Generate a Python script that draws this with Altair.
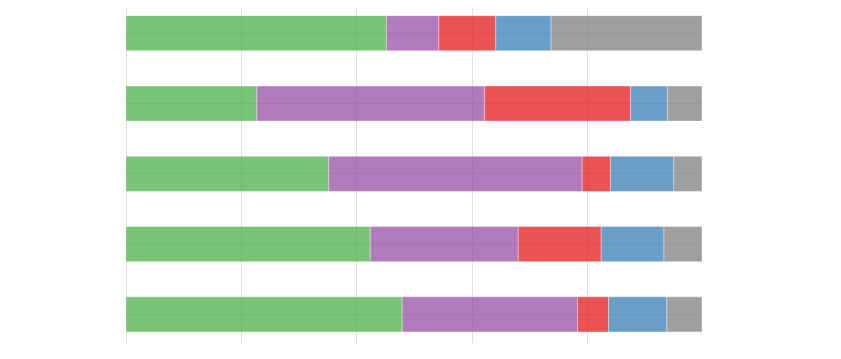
import altair as alt
import pandas as pd

categories = ["A", "B", "C", "D", "E"]
series = ["S1", "S2", "S3", "S4", "S5"]
colors = ["#4daf4a", "#984ea3", "#e41a1c", "#377eb8", "#7f7f7f"]
values = [
    [45.2, 9.1, 9.9, 9.6, 26.2],
    [22.7, 39.5, 25.3, 6.4, 6.0],
    [35.2, 44.0, 4.9, 11.0, 4.9],
    [42.4, 25.7, 14.4, 10.9, 6.6],
    [47.9, 30.4, 5.4, 10.1, 6.1],
]

rows = []
for ci, cat in enumerate(categories):
    for si, s in enumerate(series):
        rows.append({"cat": cat, "series": s, "order": si, "value": values[ci][si]})
df = pd.DataFrame(rows)

chart = alt.Chart(df).mark_bar(opacity=0.75, stroke="white", strokeWidth=1, strokeOpacity=0.4).encode(
    x=alt.X("value:Q", stack="normalize",
            scale=alt.Scale(domain=[0, 1], nice=False),
            axis=alt.Axis(values=[0, 0.2, 0.4, 0.6, 0.8, 1.0], labels=False, ticks=False,
                          domain=False, title=None, grid=True, gridColor="#e0e0e0")),
    y=alt.Y("cat:N", sort=categories,
            scale=alt.Scale(paddingInner=0.5, paddingOuter=0.133, align=0.41),
            axis=alt.Axis(labels=False, ticks=False, domain=False, title=None,
                          grid=True, gridColor="#e0e0e0")),
    color=alt.Color("series:N", scale=alt.Scale(domain=series, range=colors), legend=None),
    order=alt.Order("order:Q"),
).properties(
    width=576, height=335,
    padding={"left": 126, "top": 8, "right": 0, "bottom": 0},
    autosize=alt.AutoSizeParams(type="none"),
).configure_view(stroke=None)

chart.save("out.html", embed_options={"renderer": "svg", "actions": False})
